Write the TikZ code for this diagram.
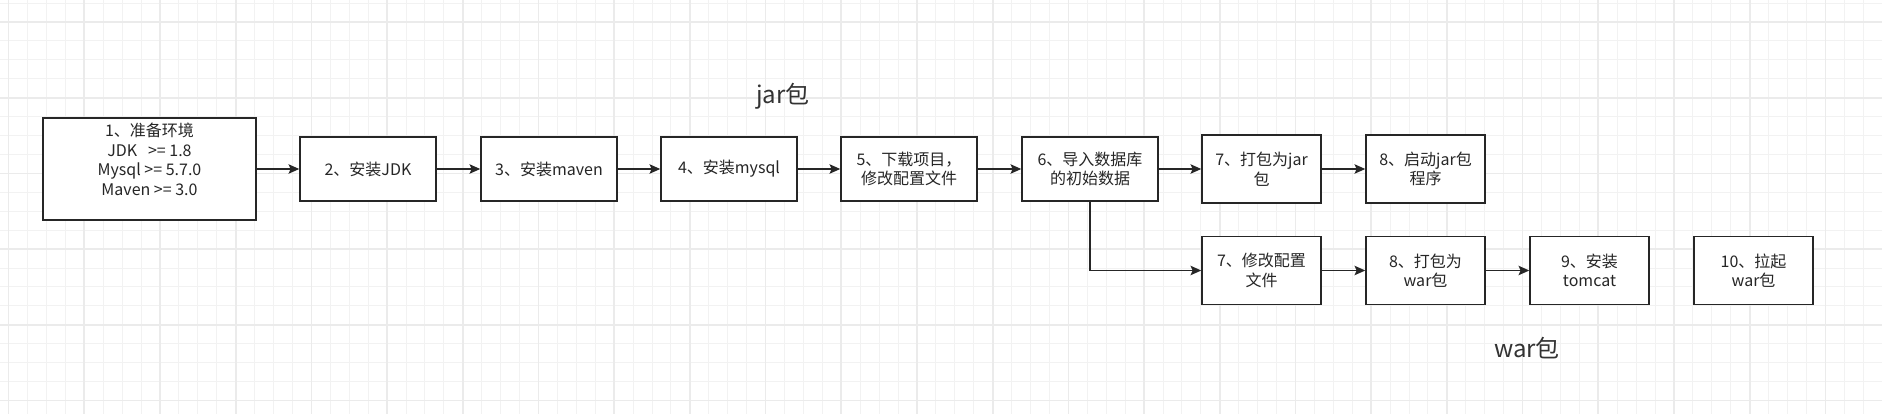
\documentclass[tikz,border=0pt]{standalone}
\usepackage{fontspec}
\setmainfont{Noto Sans CJK SC}
\usetikzlibrary{arrows.meta}

\begin{document}
\begin{tikzpicture}[x=0.75pt, y=-0.75pt,
  gridminor/.style={draw=black!5, line width=0.75pt},
  gridmajor/.style={draw=black!8, line width=1.3pt},
  stepbox/.style={draw=black!85, line width=1.1pt, fill=white, align=center, inner sep=2pt, text=black!85, font=\fontsize{12}{14.6}\selectfont},
  mainbox/.style={stepbox, minimum width=102pt, minimum height=48pt},
  subbox/.style={stepbox, minimum width=89.25pt, minimum height=51pt},
  flow/.style={draw=black!85, line width=1.1pt, -{Stealth[length=8pt, width=7pt, inset=1.5pt]}},
  tag/.style={text=black!80, font=\fontsize{18}{20}\selectfont}]

\fill[white] (0,0) rectangle (1882,414);
\useasboundingbox (0,0) rectangle (1882,414);

\foreach \i in {0,...,99} \draw[gridminor] ({8.6+18.925*\i},0) -- ({8.6+18.925*\i},414);
\foreach \i in {0,...,21} \draw[gridminor] (0,{3.075+18.925*\i}) -- (1882,{3.075+18.925*\i});
\foreach \i in {0,...,24} \draw[gridmajor] ({8.6+75.7*\i},0) -- ({8.6+75.7*\i},414);
\foreach \i in {0,...,5} \draw[gridmajor] (0,{22+75.7*\i}) -- (1882,{22+75.7*\i});

\node[stepbox, minimum width=159.75pt, minimum height=76.5pt] (env) at (149.5,169) {1、准备环境\\JDK\ \ \ >= 1.8\\Mysql >= 5.7.0\\Maven >= 3.0\\~};
\node[mainbox] (jdk) at (368,169) {2、安装JDK};
\node[mainbox] (maven) at (549,169) {3、安装maven};
\node[mainbox] (mysql) at (729,169) {4、安装mysql};
\node[mainbox] (proj) at (909,169) {5、下载项目，\\修改配置文件};
\node[mainbox] (db) at (1090,169) {6、导入数据库\\的初始数据};

\node[subbox] (jarpack) at (1261.5,169) {7、打包为jar\\包};
\node[subbox] (jarrun) at (1425.5,169) {8、启动jar包\\程序};

\node[subbox] (conf) at (1261.5,270.5) {7、修改配置\\文件};
\node[subbox] (warpack) at (1425.5,270.5) {8、打包为\\war包};
\node[subbox] (tomcat) at (1589.5,270.5) {9、安装\\tomcat};
\node[subbox] (warrun) at (1753.5,270.5) {10、拉起\\war包};

\node[tag] (jartag) at (783,96) {jar包};
\node[tag] (wartag) at (1527,348) {war包};

\draw[flow] (env) -- (jdk);
\draw[flow] (jdk) -- (maven);
\draw[flow] (maven) -- (mysql);
\draw[flow] (mysql) -- (proj);
\draw[flow] (proj) -- (db);
\draw[flow] (db) -- (jarpack);
\draw[flow] (jarpack) -- (jarrun);
\draw[flow] (db) |- (conf);
\draw[flow] (conf) -- (warpack);
\draw[flow] (warpack) -- (tomcat);

\end{tikzpicture}
\end{document}
